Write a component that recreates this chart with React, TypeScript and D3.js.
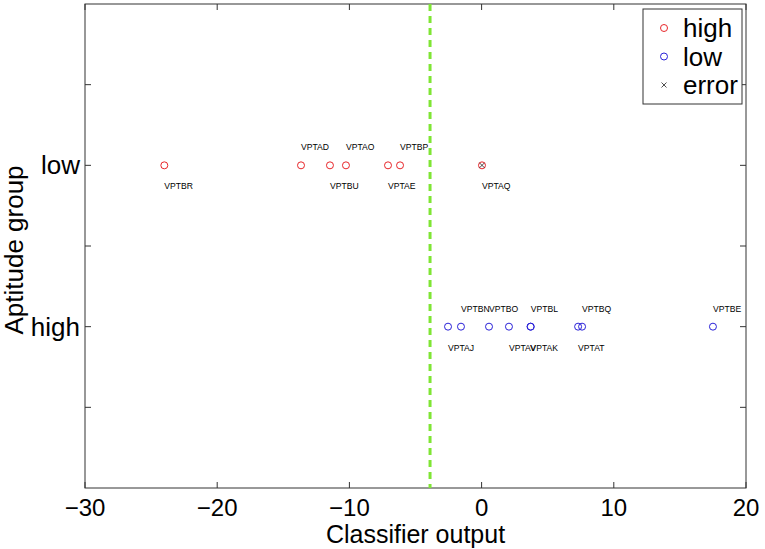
import React, { useEffect, useRef } from "react";
import * as d3 from "d3";

// low aptitude group (red circles)
const lowNames = ["VPTBR", "VPTAD", "VPTBU", "VPTAO", "VPTAE", "VPTBP", "VPTAQ"];
const lowValues = [-24.0, -13.66, -11.47, -10.26, -7.08, -6.17, 0.03];
const lowLabelSide = ["below", "above", "below", "above", "below", "above", "below"];

// high aptitude group (blue circles)
const highNames = ["VPTAJ", "VPTBN", "VPTBO", "VPTAV", "VPTAK", "VPTBL", "VPTAT", "VPTBQ", "VPTBE"];
const highValues = [-2.54, -1.56, 0.56, 2.07, 3.7, 3.72, 7.3, 7.6, 17.5];
const highLabelSide = ["below", "above", "above", "below", "below", "above", "below", "above", "above"];

// misclassified points
const errorNames = ["VPTAQ"];

const threshold = -3.9;
const xTicks = [-30, -20, -10, 0, 10, 20];
const yTickValues = [0.5, 1, 1.5, 2, 2.5];
const yTickLabels: Record<string, string> = { "1": "high", "2": "low" };
const legendLabels = ["high", "low", "error"];

const App = () => {
  const ref = useRef<SVGSVGElement>(null);

  useEffect(() => {
    const svg = d3.select(ref.current);
    svg.selectAll("*").remove();

    const margin = { top: 4, right: 19, bottom: 61, left: 85 };
    const width = 765 - margin.left - margin.right;
    const height = 549 - margin.top - margin.bottom;
    const font = "Liberation Sans, Arial, Helvetica, sans-serif";
    const axisColor = "#333";

    const g = svg.append("g").attr("transform", `translate(${margin.left},${margin.top})`);

    const x = d3.scaleLinear().domain([-30, 20]).range([0, width]);
    const y = d3.scaleLinear().domain([0, 3]).range([height, 0]);

    // frame
    g.append("rect")
      .attr("width", width).attr("height", height)
      .attr("fill", "white").attr("stroke", axisColor).attr("stroke-width", 1);

    // x ticks (inward, top and bottom)
    xTicks.forEach((t) => {
      g.append("line").attr("x1", x(t)).attr("x2", x(t)).attr("y1", height).attr("y2", height - 6).attr("stroke", axisColor);
      g.append("line").attr("x1", x(t)).attr("x2", x(t)).attr("y1", 0).attr("y2", 6).attr("stroke", axisColor);
      g.append("text")
        .attr("x", x(t)).attr("y", height + 28)
        .attr("text-anchor", "middle")
        .style("font-family", font).style("font-size", "24px")
        .text(t < 0 ? "\u2212" + Math.abs(t) : String(t));
    });

    // y ticks
    yTickValues.forEach((t) => {
      g.append("line").attr("x1", 0).attr("x2", 6).attr("y1", y(t)).attr("y2", y(t)).attr("stroke", axisColor);
      g.append("line").attr("x1", width).attr("x2", width - 6).attr("y1", y(t)).attr("y2", y(t)).attr("stroke", axisColor);
      const lab = yTickLabels[String(t)];
      if (lab) {
        g.append("text")
          .attr("x", -5).attr("y", y(t)).attr("dy", "0.35em")
          .attr("text-anchor", "end")
          .style("font-family", font).style("font-size", "26px")
          .text(lab);
      }
    });

    // axis titles
    g.append("text")
      .attr("x", width / 2).attr("y", height + 55)
      .attr("text-anchor", "middle")
      .style("font-family", font).style("font-size", "25px")
      .text("Classifier output");
    g.append("text")
      .attr("transform", `translate(${-62},${height / 2 + 4}) rotate(-90)`)
      .attr("text-anchor", "middle")
      .style("font-family", font).style("font-size", "26px")
      .text("Aptitude group");

    // threshold line
    g.append("line")
      .attr("x1", x(threshold)).attr("x2", x(threshold))
      .attr("y1", 0).attr("y2", height)
      .attr("stroke", "#7fe534").attr("stroke-width", 3)
      .attr("stroke-dasharray", "7,5");

    const drawGroup = (names: string[], values: number[], sides: string[], level: number, color: string) => {
      names.forEach((n, i) => {
        const cx = x(values[i]);
        const cy = y(level);
        g.append("circle").attr("cx", cx).attr("cy", cy).attr("r", 3.5)
          .attr("fill", "none").attr("stroke", color).attr("stroke-width", 1);
        g.append("text")
          .attr("x", cx).attr("y", sides[i] === "above" ? cy - 18 : cy + 21)
          .attr("dy", "0.35em")
          .style("font-family", font).style("font-size", "8.6px")
          .text(n);
        if (errorNames.includes(n)) {
          const s = 2.5;
          g.append("path")
            .attr("d", `M${cx - s},${cy - s}L${cx + s},${cy + s}M${cx - s},${cy + s}L${cx + s},${cy - s}`)
            .attr("stroke", "#222").attr("stroke-width", 0.8);
        }
      });
    };
    drawGroup(lowNames, lowValues, lowLabelSide, 2, "#e8262a");
    drawGroup(highNames, highValues, highLabelSide, 1, "#2a22d8");

    // legend
    const lg = svg.append("g").attr("transform", "translate(643,9)");
    lg.append("rect").attr("width", 99).attr("height", 95)
      .attr("fill", "white").attr("stroke", axisColor);
    const legendColors = ["#e8262a", "#2a22d8", "#222"];
    legendLabels.forEach((l, i) => {
      const ly = 19 + i * 28.5;
      if (l === "error") {
        const s = 2.5;
        lg.append("path")
          .attr("d", `M${21 - s},${ly - s}L${21 + s},${ly + s}M${21 - s},${ly + s}L${21 + s},${ly - s}`)
          .attr("stroke", legendColors[i]).attr("stroke-width", 0.8);
      } else {
        lg.append("circle").attr("cx", 21).attr("cy", ly).attr("r", 3.5)
          .attr("fill", "none").attr("stroke", legendColors[i]);
      }
      lg.append("text")
        .attr("x", 40).attr("y", ly).attr("dy", "0.35em")
        .style("font-family", font).style("font-size", "26px")
        .text(l);
    });
  }, []);

  return (
    <svg ref={ref} width={765} height={549} style={{ position: "absolute", left: 0, top: 0 }} />
  );
};

export default App;
